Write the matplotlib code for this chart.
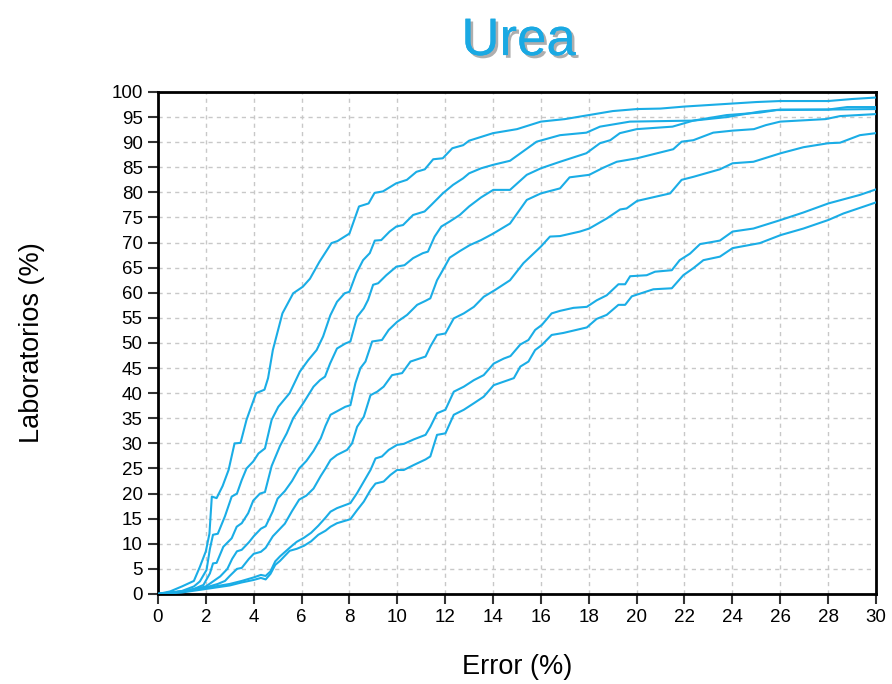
import matplotlib
matplotlib.use("Agg")
import matplotlib.pyplot as plt
import matplotlib.patheffects as pe

plt.rcParams['font.family'] = ['Liberation Sans', 'DejaVu Sans']

BLUE = '#1aade6'

# curve A (fastest)
a_x = [0, 0.5, 1.0, 1.5, 1.75, 2.0, 2.15, 2.25, 2.45, 2.7, 2.95, 3.2, 3.45, 3.7, 3.85, 4.1, 4.45,
       4.6, 4.8, 5.2, 5.65, 6.05, 6.35, 6.75, 7.25, 7.5, 8.0, 8.4, 8.8, 9.05, 9.4, 9.95, 10.4, 10.8,
       11.15, 11.5, 11.9, 12.3, 12.75, 13.0, 14, 15, 16, 17, 18, 19, 20, 21, 22, 23, 24, 25, 26,
       27, 28, 29, 30]
a_y = [0, 0.5, 1.5, 2.6, 5.4, 8.5, 12, 19.4, 19.1, 21.5, 24.7, 30.0, 30.1, 34.7, 36.7, 40.0, 40.7,
       43, 48.6, 55.9, 59.9, 61.2, 62.8, 66.2, 69.9, 70.3, 71.8, 77.2, 77.8, 79.9, 80.2, 81.8, 82.5,
       84.1, 84.6, 86.6, 86.8, 88.8, 89.4, 90.3, 91.8, 92.6, 94.1, 94.6, 95.4, 96.2, 96.6, 96.7,
       97.1, 97.4, 97.7, 98.0, 98.2, 98.2, 98.2, 98.6, 98.9]

# curve B
b_x = [0, 1.0, 1.5, 1.75, 2.03, 2.17, 2.3, 2.5, 2.8, 3.08, 3.3, 3.5, 3.7, 3.98, 4.2, 4.47, 4.75,
       5.03, 5.5, 5.93, 6.28, 6.63, 6.9, 7.2, 7.48, 7.8, 8.0, 8.29, 8.57, 8.85, 9.06, 9.33, 9.68,
       9.96, 10.24, 10.66, 11.14, 11.42, 11.9, 12.33, 12.75, 13.0, 13.5, 14.01, 14.71, 15.82,
       16.8, 17.9, 18.47, 19.72, 22.37, 23.76, 25.15, 25.85, 28, 30]
b_y = [0, 0.6, 1.5, 2.5, 4.8, 9.0, 11.8, 12.0, 15.5, 19.4, 20.0, 22.7, 25.0, 26.4, 28.0, 29.0, 34.7,
       37.3, 40.0, 44.3, 46.6, 48.6, 51.3, 55.5, 58.2, 59.9, 60.2, 63.9, 66.5, 67.9, 70.4, 70.5,
       72.2, 73.2, 73.5, 75.5, 76.2, 77.5, 79.8, 81.5, 82.8, 83.8, 84.8, 85.5, 86.3, 90.1, 91.4,
       91.9, 93.1, 94.1, 94.3, 95.4, 95.9, 96.4, 96.5, 96.6]

# curve C
c_x = [0, 1.0, 1.5, 1.9, 2.17, 2.3, 2.45, 2.73, 3.08, 3.29, 3.5, 3.77, 3.98, 4.26, 4.47, 4.75, 5.1,
       5.38, 5.65, 6.07, 6.5, 6.77, 6.98, 7.19, 7.48, 7.83, 8.04, 8.32, 8.6, 8.78, 8.99, 9.2, 9.54,
       9.96, 10.3, 10.66, 11.07, 11.28, 11.56, 11.84, 12.19, 12.61, 13.0, 13.5, 14.01, 14.71,
       15.41, 16.0, 16.8, 17.9, 18.47, 18.9, 19.3, 20.0, 21.5, 22.37, 23.76, 25.15, 26.0, 28.0,
       28.8, 30]
c_y = [0, 0.5, 1.0, 1.8, 4.1, 6.1, 6.2, 9.4, 11.1, 13.4, 14.1, 16.1, 18.6, 20.0, 20.3, 25.5, 29.5,
       32.0, 35.0, 38.0, 41.3, 42.6, 43.3, 45.9, 48.9, 49.9, 50.3, 55.2, 56.9, 58.6, 61.6, 61.9,
       63.5, 65.2, 65.5, 66.9, 67.9, 68.2, 71.2, 73.2, 74.2, 75.5, 77.2, 79.0, 80.5, 80.5, 83.5,
       84.8, 86.1, 87.8, 89.8, 90.4, 91.8, 92.6, 93.1, 94.3, 95.0, 96.1, 96.5, 96.5, 97.0, 97.0]

# curve D
d_x = [0, 1.0, 2.0, 2.3, 2.6, 2.9, 3.1, 3.3, 3.5, 3.8, 4.0, 4.3, 4.5, 4.8, 5.0, 5.3, 5.6, 5.9,
       6.2, 6.5, 6.8, 7.0, 7.21, 7.83, 8.04, 8.25, 8.46, 8.67, 8.95, 9.36, 9.64, 9.99, 10.41,
       10.83, 11.18, 11.38, 11.66, 11.9, 12.19, 12.61, 13.03, 13.5, 14.01, 14.71, 15.41, 16.0,
       16.8, 17.2, 18.02, 18.6, 19.17, 20.02, 21.53, 21.88, 22.37, 23.2, 24.0, 24.9, 25.4, 26.0,
       27.9, 28.5, 30]
d_y = [0, 0.4, 1.5, 2.5, 3.5, 5.0, 7.0, 8.5, 8.8, 10.3, 11.5, 13.0, 13.5, 16.5, 19.0, 20.5, 22.5,
       25.0, 26.5, 28.5, 31.0, 33.5, 35.7, 37.3, 37.6, 42.0, 45.0, 46.3, 50.3, 50.6, 52.6, 54.2,
       55.6, 57.6, 58.4, 58.9, 62.5, 64.5, 67.0, 68.3, 69.5, 70.5, 71.8, 73.8, 78.5, 79.8, 80.8,
       83.0, 83.5, 84.9, 86.1, 86.8, 88.6, 90.1, 90.4, 91.9, 92.3, 92.6, 93.4, 94.1, 94.6, 95.2,
       95.6]

# curve E
e_x = [0, 1.0, 2.0, 2.5, 2.8, 3.0, 3.3, 3.5, 3.8, 4.0, 4.3, 4.5, 4.8, 5.0, 5.3, 5.6, 5.9, 6.2,
       6.5, 6.8, 7.0, 7.21, 7.48, 7.9, 8.11, 8.32, 8.6, 8.88, 9.16, 9.43, 9.78, 10.2, 10.55, 11.18,
       11.38, 11.66, 12.01, 12.36, 12.78, 13.2, 13.61, 14.1, 14.71, 15.27, 16.0, 16.38, 16.8,
       17.63, 18.02, 18.75, 19.31, 19.58, 20.02, 21.4, 21.88, 22.37, 23.48, 24.01, 24.88, 26.02,
       26.97, 28.01, 28.5, 29.33, 30]
e_y = [0, 0.5, 1.3, 2.0, 2.6, 3.6, 5.0, 5.2, 7.0, 8.0, 8.4, 9.2, 11.5, 12.5, 14.0, 16.5, 18.8,
       19.6, 21.0, 23.5, 25.0, 26.7, 27.7, 28.7, 30.0, 33.3, 35.3, 39.6, 40.3, 41.3, 43.6, 44.0,
       46.3, 47.3, 49.3, 51.6, 51.9, 54.9, 55.9, 57.2, 59.2, 60.6, 62.5, 65.9, 69.2, 71.2, 71.3,
       72.2, 72.8, 74.8, 76.6, 76.8, 78.3, 79.8, 82.5, 83.1, 84.6, 85.8, 86.1, 87.8, 89.0, 89.8,
       89.9, 91.4, 91.8]

# curve F
f_x = [0, 1.0, 2.0, 3.0, 3.5, 4.0, 4.3, 4.5, 4.7, 4.9, 5.1, 5.5, 5.8, 6.1, 6.4, 6.7, 7.0, 7.21,
       7.48, 8.04, 8.32, 8.6, 8.88, 9.09, 9.36, 9.64, 9.99, 10.27, 10.69, 11.18, 11.38, 11.66,
       12.01, 12.36, 12.78, 13.2, 13.61, 14.03, 14.45, 14.73, 15.14, 15.48, 15.76, 16.04, 16.45,
       16.8, 17.36, 17.92, 18.33, 18.75, 19.24, 19.52, 19.73, 20.42, 20.77, 21.47, 21.8, 22.23,
       22.65, 23.48, 24.01, 24.88, 26.02, 26.97, 28.01, 29.33, 30]
f_y = [0, 0.5, 1.2, 2.0, 2.6, 3.3, 3.8, 3.6, 4.5, 6.5, 7.5, 9.2, 10.4, 11.2, 12.2, 13.6, 15.2,
       16.4, 17.1, 18.1, 20.1, 22.4, 24.7, 27.0, 27.4, 28.7, 29.7, 29.9, 30.8, 31.7, 33.3, 36.0,
       36.7, 40.3, 41.3, 42.6, 43.6, 45.9, 46.9, 47.4, 49.7, 50.6, 52.6, 53.6, 55.9, 56.4, 57.0,
       57.2, 58.5, 59.5, 61.7, 61.7, 63.3, 63.5, 64.2, 64.5, 66.5, 67.8, 69.7, 70.4, 72.2, 72.8,
       74.5, 76.0, 77.8, 79.5, 80.6]

# curve G (slowest)
g_x = [0, 1.0, 2.0, 3.0, 3.5, 4.0, 4.3, 4.5, 4.7, 4.9, 5.1, 5.5, 5.8, 6.1, 6.4, 6.7, 7.0, 7.21,
       7.48, 8.04, 8.32, 8.6, 8.88, 9.09, 9.43, 9.71, 9.99, 10.27, 10.69, 11.18, 11.38, 11.66,
       12.01, 12.36, 12.78, 13.2, 13.61, 14.03, 14.45, 14.87, 15.14, 15.48, 15.76, 16.04, 16.45,
       16.94, 17.92, 18.33, 18.75, 19.24, 19.52, 19.8, 20.7, 21.47, 21.95, 22.37, 22.79, 23.48,
       24.01, 25.15, 26.02, 26.97, 28.01, 28.64, 30]
g_y = [0, 0.3, 1.0, 1.7, 2.3, 2.8, 3.2, 2.9, 4.0, 5.8, 6.6, 8.6, 9.0, 9.6, 10.5, 11.8, 12.6,
       13.4, 14.1, 14.9, 16.7, 18.4, 20.7, 22.0, 22.4, 23.7, 24.7, 24.7, 25.7, 26.8, 27.4, 31.7,
       32.0, 35.7, 36.7, 38.0, 39.3, 41.6, 42.3, 43.0, 45.3, 46.3, 48.6, 49.6, 51.6, 52.0, 53.1,
       54.8, 55.6, 57.6, 57.6, 59.3, 60.7, 60.9, 63.5, 64.9, 66.5, 67.2, 68.9, 69.9, 71.5, 72.8,
       74.5, 75.8, 78.0]

curves = [(a_x, a_y), (b_x, b_y), (c_x, c_y), (d_x, d_y), (e_x, e_y), (f_x, f_y), (g_x, g_y)]

x_ticks = list(range(0, 31, 2))
y_ticks = list(range(0, 101, 5))

fig = plt.figure(figsize=(8.92, 6.84), dpi=100)
ax = fig.add_axes([0.1771, 0.1316, 0.8049, 0.7339])

for xs, ys in curves:
    ax.plot(xs, ys, color=BLUE, lw=1.5, solid_joinstyle='round', zorder=3)

ax.set_xlim(0, 30)
ax.set_ylim(0, 100)
ax.set_xticks(x_ticks)
ax.set_yticks(y_ticks)
ax.grid(True, color='#c8c8c8', linestyle=(0, (3, 3)), linewidth=1)
ax.tick_params(direction='out', length=7, width=1.5, color='#333333', labelsize=13.5, pad=4)
for sp in ax.spines.values():
    sp.set_linewidth(2)
    sp.set_color('black')

ax.set_xlabel('Error (%)', fontsize=19.5, va='center')
ax.xaxis.set_label_coords(0.5, -0.145)
ax.set_ylabel('Laboratorios (%)', fontsize=19.5, va='center')
ax.yaxis.set_label_coords(-0.175, 0.5)

fig.text(0.5815, 0.940, 'Urea', fontsize=38, color='#1aa9e3', ha='center', va='center',
         path_effects=[pe.withSimplePatchShadow(offset=(2, -2), shadow_rgbFace='#9a9a9a', alpha=0.8),
                       pe.Normal()])

fig.savefig('out.png', dpi=100)
